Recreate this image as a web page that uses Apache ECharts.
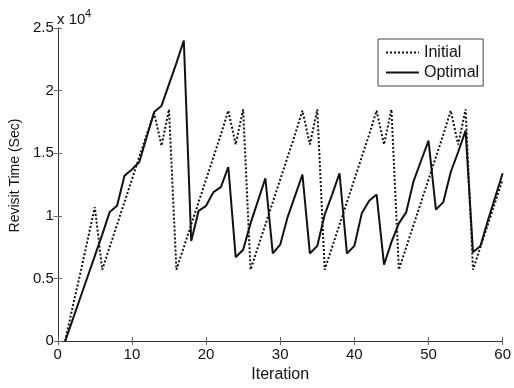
<!DOCTYPE html>
<html><head><meta charset="utf-8">
<script src="https://cdn.jsdelivr.net/npm/echarts@6/dist/echarts.min.js"></script>
<style>html,body{margin:0;padding:0;background:#fff}#c{width:514px;height:388px}</style>
</head><body><div id="c"></div>
<script>
// Revisit time in units of 10^4 seconds
const iterations = [1,2,3,4,5,6,7,8,9,10,11,12,13,14,15,16,17,18,19,20,21,22,23,24,25,26,27,28,29,30,
  31,32,33,34,35,36,37,38,39,40,41,42,43,44,45,46,47,48,49,50,51,52,53,54,55,56,57,58,59,60];
const initialTimes = [0,0.27,0.53,0.80,1.07,0.57,0.75,0.93,1.11,1.29,1.47,1.65,1.82,1.56,1.85,
  0.57,0.75,0.93,1.11,1.29,1.47,1.65,1.84,1.57,1.85,
  0.57,0.75,0.93,1.11,1.29,1.47,1.65,1.84,1.57,1.85,
  0.57,0.75,0.93,1.11,1.29,1.47,1.65,1.84,1.57,1.85,
  0.57,0.75,0.93,1.11,1.29,1.47,1.65,1.84,1.57,1.85,
  0.57,0.75,0.93,1.11,1.29];
const optimalTimes = [0,0.17,0.34,0.51,0.68,0.85,1.03,1.08,1.32,1.37,1.43,1.63,1.83,1.88,2.05,2.22,2.40,
  0.80,1.04,1.08,1.19,1.23,1.39,0.67,0.73,0.94,1.12,1.30,0.70,0.77,0.99,1.16,1.33,
  0.70,0.76,1.01,1.17,1.34,0.70,0.76,1.02,1.12,1.17,0.61,0.79,0.94,1.03,1.28,1.44,1.60,
  1.05,1.11,1.35,1.51,1.68,0.71,0.76,0.96,1.15,1.34];
const seriesNames = ['Initial', 'Optimal'];
const xRange = [0, 60, 10];
const yRange = [0, 2.5, 0.5];

const FONT = "'Liberation Sans', Arial, Helvetica, sans-serif";
const chart = echarts.init(document.getElementById('c'), null, {renderer: 'canvas'});
const axisLine = {show: true, lineStyle: {color: '#333', width: 1}};
const tick = {show: true, inside: true, length: 4, lineStyle: {color: '#666', width: 1}};
const pairs = arr => iterations.map((x, i) => [x, arr[i]]);

chart.setOption({
  animation: false,
  backgroundColor: '#fff',
  grid: {left: 57, right: 7, top: 28, bottom: 39, containLabel: false},
  xAxis: [{
    type: 'value', min: xRange[0], max: xRange[1], interval: xRange[2],
    position: 'bottom',
    axisLine: axisLine, axisTick: tick, splitLine: {show: false},
    axisLabel: {color: '#111', fontFamily: FONT, fontSize: 15, margin: 6},
    name: 'Iteration', nameLocation: 'middle', nameGap: 20,
    nameTextStyle: {color: '#111', fontFamily: FONT, fontSize: 16}
  }, {
    type: 'value', min: xRange[0], max: xRange[1], interval: xRange[2],
    position: 'top',
    axisLine: axisLine, axisTick: tick, splitLine: {show: false},
    axisLabel: {show: false}
  }],
  yAxis: [{
    type: 'value', min: yRange[0], max: yRange[1], interval: yRange[2],
    position: 'left',
    axisLine: axisLine, axisTick: tick, splitLine: {show: false},
    axisLabel: {color: '#111', fontFamily: FONT, fontSize: 15, margin: 4,
      formatter: v => String(+v.toFixed(1))},
    name: 'Revisit Time (Sec)', nameLocation: 'middle', nameGap: 31, nameRotate: 90,
    nameTextStyle: {color: '#111', fontFamily: FONT, fontSize: 14, padding: [0, 0, 0, 18]}
  }, {
    type: 'value', min: yRange[0], max: yRange[1], interval: yRange[2],
    position: 'right',
    axisLine: axisLine, axisTick: tick, splitLine: {show: false},
    axisLabel: {show: false}
  }],
  legend: {
    orient: 'vertical', left: 378, top: 39,
    data: seriesNames,
    itemWidth: 33, itemHeight: 10, itemGap: 3,
    padding: [5, 4, 5, 7],
    itemStyle: {opacity: 0, borderWidth: 0},
    backgroundColor: '#fff', borderColor: '#444', borderWidth: 1,
    textStyle: {color: '#111', fontFamily: FONT, fontSize: 16, lineHeight: 17}
  },
  graphic: [
    {type: 'text', left: 57, top: 12, style: {text: 'x 10', fill: '#111', font: '15px ' + FONT}},
    {type: 'text', left: 85, top: 8, style: {text: '4', fill: '#111', font: '11px ' + FONT}}
  ],
  series: [{
    name: seriesNames[0], type: 'line', data: pairs(initialTimes),
    showSymbol: false, symbol: 'none',
    lineStyle: {color: '#111', width: 2, type: [2, 2]},
    itemStyle: {color: '#111'}
  }, {
    name: seriesNames[1], type: 'line', data: pairs(optimalTimes),
    showSymbol: false, symbol: 'none',
    lineStyle: {color: '#111', width: 2, type: 'solid'},
    itemStyle: {color: '#111'}
  }]
});
</script>
</body></html>
